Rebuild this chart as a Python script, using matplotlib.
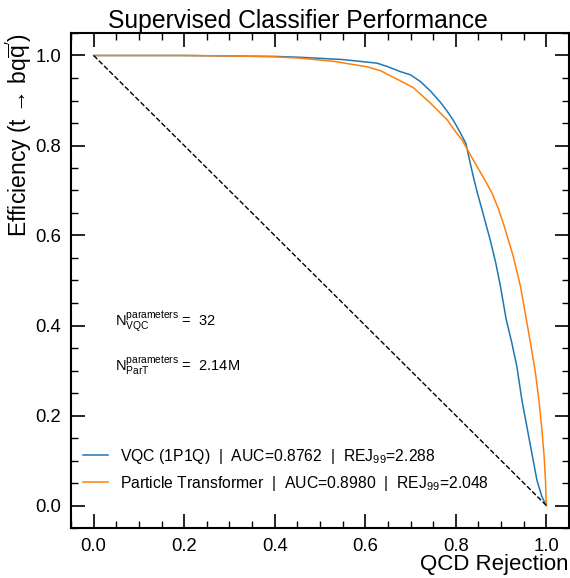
import matplotlib
matplotlib.use("Agg")
import matplotlib.pyplot as plt
from matplotlib.ticker import MultipleLocator

plt.rcParams["font.family"] = ["Liberation Sans", "DejaVu Sans"]
plt.rcParams["mathtext.fontset"] = "custom"
plt.rcParams["mathtext.rm"] = "Liberation Sans"
plt.rcParams["mathtext.it"] = "Liberation Sans:italic"
plt.rcParams["mathtext.bf"] = "Liberation Sans:bold"

# ROC curves (x = QCD rejection, y = signal efficiency)
x_vqc = [0.0, 0.1, 0.2, 0.3, 0.4, 0.457, 0.55, 0.626, 0.65, 0.678, 0.70,
         0.722, 0.744, 0.766, 0.781, 0.795, 0.808, 0.822, 0.832, 0.840,
         0.847, 0.862, 0.876, 0.888, 0.898, 0.905, 0.911, 0.924, 0.935,
         0.946, 0.957, 0.968, 0.979, 0.990, 1.0]
y_vqc = [1.0, 1.0, 1.0, 0.999, 0.998, 0.996, 0.991, 0.983, 0.975, 0.964,
         0.957, 0.942, 0.921, 0.896, 0.876, 0.855, 0.832, 0.805, 0.760,
         0.725, 0.697, 0.642, 0.590, 0.540, 0.490, 0.450, 0.415, 0.360,
         0.308, 0.234, 0.175, 0.116, 0.057, 0.020, 0.0]

x_part = [0.0, 0.1, 0.2, 0.3, 0.4, 0.457, 0.53, 0.604, 0.634, 0.667, 0.707,
          0.744, 0.781, 0.800, 0.814, 0.830, 0.847, 0.865, 0.880, 0.893,
          0.905, 0.916, 0.927, 0.943, 0.956, 0.966, 0.976, 0.984, 0.990,
          0.995, 0.998, 1.0]
y_part = [1.0, 1.0, 1.0, 0.999, 0.997, 0.994, 0.987, 0.975, 0.966, 0.949,
          0.928, 0.894, 0.857, 0.830, 0.812, 0.783, 0.753, 0.722, 0.694,
          0.662, 0.627, 0.590, 0.553, 0.486, 0.412, 0.355, 0.294, 0.230,
          0.170, 0.110, 0.057, 0.0]

labels = [r"VQC (1P1Q)  |  AUC=0.8762  |  REJ$_{99}$=2.288",
          r"Particle Transformer  |  AUC=0.8980  |  REJ$_{99}$=2.048"]
param_text = [r"N$^{\mathregular{parameters}}_{\mathregular{VQC}}$ =  32",
              r"N$^{\mathregular{parameters}}_{\mathregular{ParT}}$ =  2.14M"]

fig = plt.figure(figsize=(5.7, 5.78), dpi=100)
ax = fig.add_axes([71 / 570, 50 / 578, 498 / 570, 495 / 578])

ax.plot(x_vqc, y_vqc, color="#1f77b4", lw=1.1, label=labels[0])
ax.plot(x_part, y_part, color="#ff7f0e", lw=1.1, label=labels[1])
ax.plot([0, 1], [1, 0], color="black", ls="--", lw=1.0)

ax.text(0.047, 0.40, param_text[0], fontsize=10.5)
ax.text(0.047, 0.30, param_text[1], fontsize=10.5)

ax.set_xlim(-0.05, 1.05)
ax.set_ylim(-0.05, 1.05)
ax.xaxis.set_major_locator(MultipleLocator(0.2))
ax.yaxis.set_major_locator(MultipleLocator(0.2))
ax.xaxis.set_minor_locator(MultipleLocator(0.05))
ax.yaxis.set_minor_locator(MultipleLocator(0.05))
ax.tick_params(which="both", direction="in", top=True, right=True, labelsize=13.3)
ax.tick_params(which="major", length=10, width=1.2, pad=7)
ax.tick_params(which="minor", length=5, width=1.0)
for s in ax.spines.values():
    s.set_linewidth(1.5)

ax.set_xlabel("QCD Rejection", fontsize=16, loc="right")
ax.xaxis.set_label_coords(1.0, -0.052)
ax.set_ylabel(r"Efficiency (t → bq$\overline{\mathregular{q}}'$)",
              fontsize=16.5, loc="top")
ax.yaxis.set_label_coords(-0.075, 1.0)

ax.legend(loc="lower left", frameon=False, fontsize=11.3,
          handlelength=1.6, bbox_to_anchor=(-0.005, 0.043))

fig.text(298 / 570, 1 - 28 / 578, "Supervised Classifier Performance",
         fontsize=17.8, ha="center", va="baseline")

fig.savefig("out.png", dpi=100)
